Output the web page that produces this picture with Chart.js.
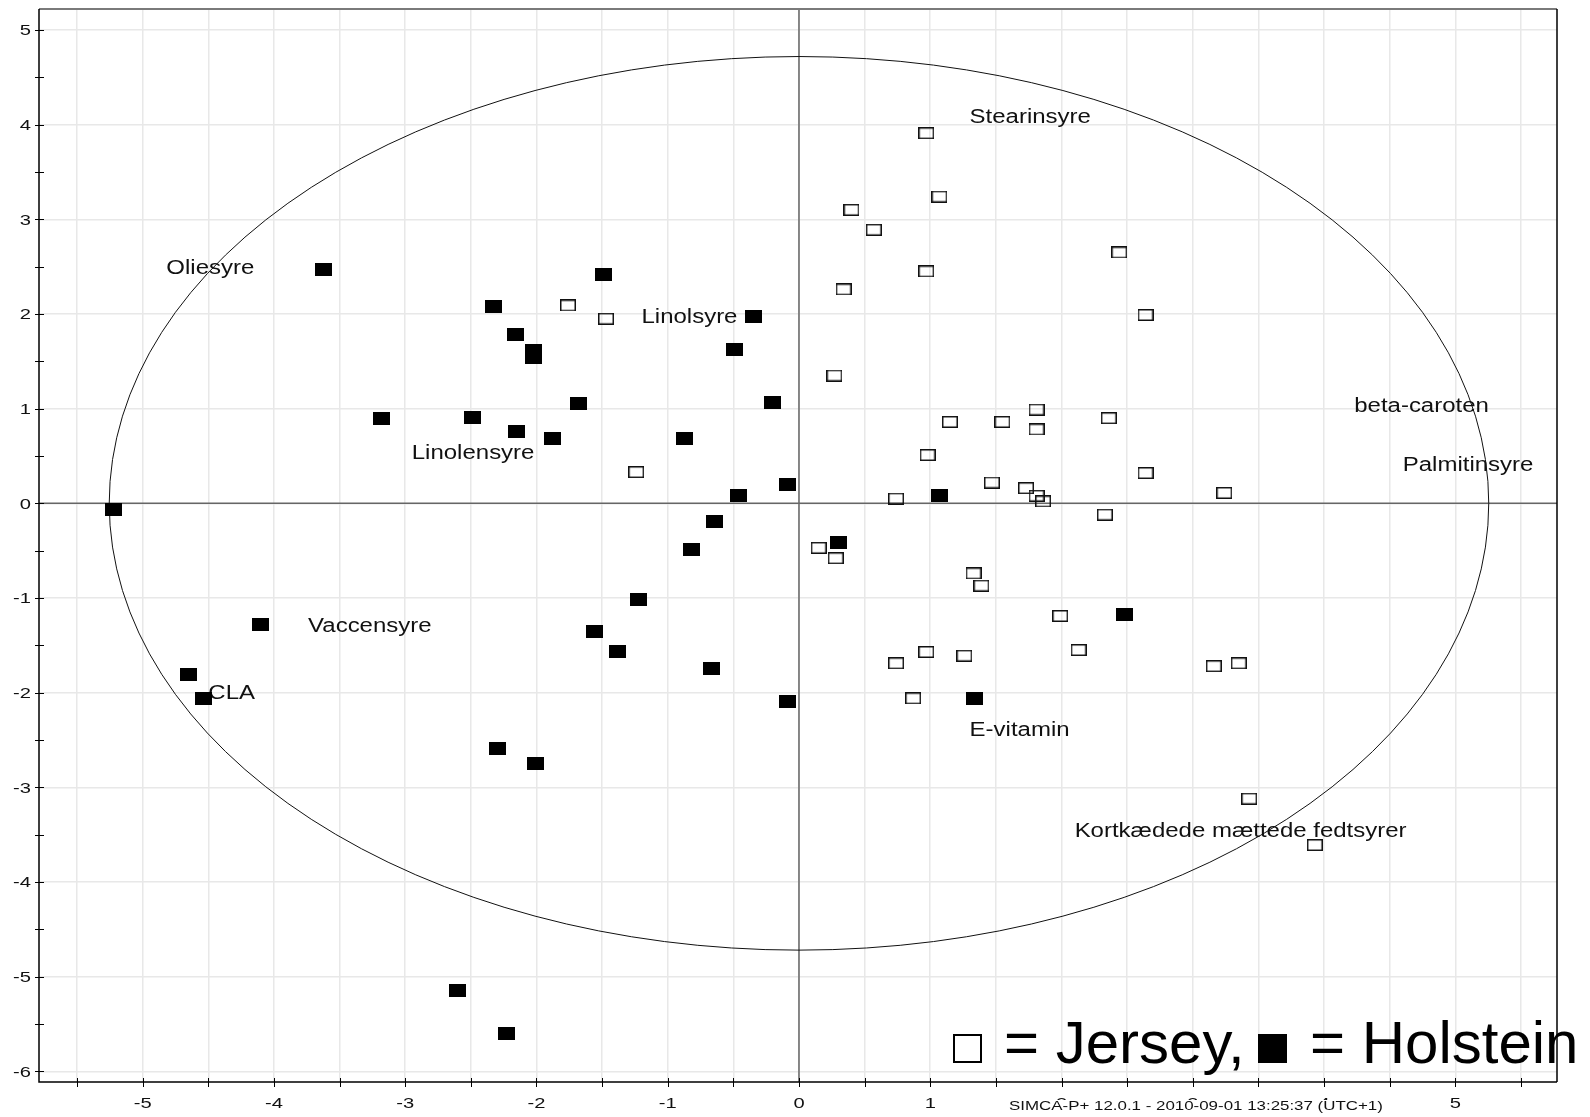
<!DOCTYPE html>
<html>
<head>
<meta charset="utf-8">
<script src="https://cdn.jsdelivr.net/npm/chart.js@4.4.0/dist/chart.umd.min.js"></script>
<style>
  html, body { margin: 0; padding: 0; background: #fff; overflow: hidden; }
  canvas { display: block; }
</style>
</head>
<body>
<canvas id="scores" width="1590" height="1117"></canvas>
<script>
// Score plot t[1] / t[2]: Jersey (open boxes) and Holstein (filled boxes)
const jerseyX = [0.97, 1.07, 0.40, 0.57, 0.97, 0.34, 2.44, 2.64, -1.76, -1.47,
                 0.27, 1.15, 1.55, 1.81, 1.81, 2.36, 0.98, -1.24, 1.47, 1.73,
                 1.81, 1.86, 0.74, 2.64, 3.24, 2.33, 0.15, 0.28, 1.33, 1.39,
                 1.99, 2.13, 0.97, 0.74, 1.26, 0.87, 3.16, 3.35, 3.43, 3.93];
const jerseyY = [3.91, 3.24, 3.10, 2.89, 2.45, 2.26, 2.65, 1.99, 2.09, 1.95,
                 1.35, 0.86, 0.86, 0.99, 0.78, 0.90, 0.51, 0.33, 0.22, 0.16,
                 0.08, 0.02, 0.05, 0.32, 0.11, -0.12, -0.47, -0.58, -0.74, -0.87,
                 -1.19, -1.55, -1.57, -1.69, -1.61, -2.06, -1.72, -1.69, -3.12, -3.61];

const holsteinX = [-5.22, -3.62, -1.49, -2.33, -2.16, -2.02, -2.02, -0.35, -0.49, -3.18,
                   -2.49, -2.15, -1.88, -1.68, -0.87, -0.20, -0.09, -0.46, 1.07, -0.64,
                   -0.82, 0.30, -1.22, -1.56, -1.38, -4.10, -4.65, -4.54, -0.67, -0.09,
                   1.34, 2.48, -2.30, -2.01, -2.60, -2.23];
const holsteinY = [-0.06, 2.47, 2.42, 2.08, 1.78, 1.61, 1.54, 1.97, 1.62, 0.90,
                   0.91, 0.76, 0.68, 1.05, 0.69, 1.07, 0.20, 0.08, 0.08, -0.19,
                   -0.49, -0.41, -1.02, -1.35, -1.56, -1.28, -1.81, -2.06, -1.75, -2.09,
                   -2.06, -1.17, -2.59, -2.75, -5.15, -5.60];

// Variable names written into the score plane (anchored at text start / baseline)
const variableNames = ['Stearinsyre', 'Oliesyre', 'Linolsyre', 'Linolensyre', 'beta-caroten',
                       'Palmitinsyre', 'Vaccensyre', 'CLA', 'E-vitamin',
                       'Kortkædede mættede fedtsyrer'];
const variableX = [1.30, -4.82, -1.20, -2.95, 4.23, 4.60, -3.74, -4.50, 1.30, 2.10];
const variableY = [4.02, 2.42, 1.90, 0.47, 0.97, 0.34, -1.36, -2.07, -2.46, -3.52];

// Axis tick labels
const xTickValues = [-5, -4, -3, -2, -1, 0, 1, 2, 3, 4, 5];
const xTickLabels = ['-5', '-4', '-3', '-2', '-1', '0', '1', '2', '3', '4', '5'];
const yTickValues = [5, 4, 3, 2, 1, 0, -1, -2, -3, -4, -5, -6];
const yTickLabels = ['5', '4', '3', '2', '1', '0', '-1', '-2', '-3', '-4', '-5', '-6'];

// Hotelling T2 (95%) ellipse half-axes
const ellipseHalfX = 5.255;
const ellipseHalfY = 4.72;

const footerText = 'SIMCA-P+ 12.0.1 - 2010-09-01 13:25:37 (UTC+1)';
const legendJerseyText = '= Jersey,';
const legendHolsteinText = '= Holstein';

const FONT = '"Liberation Sans", Arial, Helvetica, sans-serif';

function boxMarker(w, h, filled) {
  const c = document.createElement('canvas');
  c.width = w; c.height = h;
  const g = c.getContext('2d');
  if (filled) {
    g.fillStyle = '#000';
    g.fillRect(0, 0, w, h);
  } else {
    g.strokeStyle = '#111';
    g.lineWidth = 1.5;
    g.strokeRect(0.75, 0.75, w - 1.5, h - 1.5);
  }
  return c;
}
const openBox = boxMarker(16, 12, false);
const filledBox = boxMarker(17, 13, true);

function toPoints(xs, ys) { return xs.map((x, i) => ({ x: x, y: ys[i] })); }

function stretchedText(ctx, text, x, y, sx, align, baseline) {
  ctx.save();
  ctx.translate(x, y);
  ctx.scale(sx, 1);
  ctx.textAlign = align;
  ctx.textBaseline = baseline;
  ctx.fillText(text, 0, 0);
  ctx.restore();
}

const planeDecor = {
  id: 'planeDecor',
  beforeDatasetsDraw(chart) {
    const ctx = chart.ctx, xs = chart.scales.x, ys = chart.scales.y, a = chart.chartArea;
    const cx = xs.getPixelForValue(0), cy = ys.getPixelForValue(0);
    ctx.save();
    // zero lines
    ctx.strokeStyle = '#666';
    ctx.lineWidth = 1.5;
    ctx.beginPath();
    ctx.moveTo(a.left, cy); ctx.lineTo(a.right, cy);
    ctx.moveTo(cx, a.top); ctx.lineTo(cx, a.bottom);
    ctx.stroke();
    // confidence ellipse
    const rx = xs.getPixelForValue(ellipseHalfX) - cx;
    const ry = cy - ys.getPixelForValue(ellipseHalfY);
    ctx.strokeStyle = '#111';
    ctx.lineWidth = 1;
    ctx.beginPath();
    ctx.ellipse(cx, cy, rx, ry, 0, 0, Math.PI * 2);
    ctx.stroke();
    // variable names
    ctx.fillStyle = '#111';
    ctx.font = '19.5px ' + FONT;
    variableNames.forEach((name, i) => {
      stretchedText(ctx, name, xs.getPixelForValue(variableX[i]), ys.getPixelForValue(variableY[i]),
                    1.23, 'left', 'alphabetic');
    });
    ctx.restore();
  },
  afterDraw(chart) {
    const ctx = chart.ctx, xs = chart.scales.x, ys = chart.scales.y, a = chart.chartArea;
    ctx.save();
    // frame
    ctx.lineWidth = 2;
    ctx.strokeStyle = '#7a7a7a';
    ctx.beginPath(); ctx.moveTo(a.left, a.top); ctx.lineTo(a.right, a.top); ctx.stroke();
    ctx.strokeStyle = '#000';
    ctx.lineWidth = 1.5;
    ctx.beginPath();
    ctx.moveTo(a.right, a.top); ctx.lineTo(a.right, a.bottom);
    ctx.moveTo(a.left, a.top); ctx.lineTo(a.left, a.bottom); ctx.lineTo(a.right, a.bottom);
    ctx.stroke();
    // tick marks on every scale step
    ctx.lineWidth = 1;
    ctx.strokeStyle = '#000';
    ctx.beginPath();
    xs.ticks.forEach(t => {
      const px = Math.round(xs.getPixelForValue(t.value)) + 0.5;
      ctx.moveTo(px, a.bottom - 4); ctx.lineTo(px, a.bottom + 5);
    });
    ys.ticks.forEach(t => {
      const py = Math.round(ys.getPixelForValue(t.value)) + 0.5;
      ctx.moveTo(a.left - 4, py); ctx.lineTo(a.left + 5, py);
    });
    ctx.stroke();
    // tick labels
    ctx.fillStyle = '#111';
    ctx.font = '15.5px ' + FONT;
    xTickValues.forEach((v, i) => {
      stretchedText(ctx, xTickLabels[i], xs.getPixelForValue(v), a.bottom + 22, 1.3, 'center', 'middle');
    });
    yTickValues.forEach((v, i) => {
      stretchedText(ctx, yTickLabels[i], a.left - 8, ys.getPixelForValue(v) + 1, 1.3, 'right', 'middle');
    });
    // software stamp (sits over the lower part of the axis labels)
    ctx.fillStyle = '#fff';
    ctx.fillRect(1003, 1100, 386, 17);
    ctx.fillStyle = '#111';
    ctx.font = '13px ' + FONT;
    stretchedText(ctx, footerText, 1009, 1110, 1.3, 'left', 'alphabetic');
    // breed key
    ctx.strokeStyle = '#000';
    ctx.lineWidth = 2;
    ctx.strokeRect(954, 1035, 27, 27);
    ctx.fillStyle = '#000';
    ctx.fillRect(1258, 1034, 29, 29);
    ctx.font = '60px ' + FONT;
    ctx.textAlign = 'left';
    ctx.textBaseline = 'alphabetic';
    ctx.fillText(legendJerseyText, 1004, 1063);
    ctx.fillText(legendHolsteinText, 1310, 1063);
    ctx.restore();
  }
};

new Chart(document.getElementById('scores'), {
  type: 'scatter',
  data: {
    datasets: [
      {
        label: 'Jersey',
        data: toPoints(jerseyX, jerseyY),
        pointStyle: openBox,
        pointRadius: 8,
        pointHoverRadius: 8
      },
      {
        label: 'Holstein',
        data: toPoints(holsteinX, holsteinY),
        pointStyle: filledBox,
        pointRadius: 8,
        pointHoverRadius: 8
      }
    ]
  },
  options: {
    responsive: false,
    animation: false,
    devicePixelRatio: 1,
    layout: { padding: { left: 39, right: 33, top: 7, bottom: 35 } },
    plugins: { legend: { display: false }, tooltip: { enabled: false } },
    events: [],
    scales: {
      x: {
        type: 'linear',
        min: -5.79,
        max: 5.775,
        afterFit(s) { s.height = 0; },
        border: { display: false },
        grid: { color: '#e8e8e8', lineWidth: 1.5, drawTicks: false },
        ticks: { display: false, stepSize: 0.5, includeBounds: false }
      },
      y: {
        type: 'linear',
        min: -6.113,
        max: 5.222,
        afterFit(s) { s.width = 0; },
        border: { display: false },
        grid: {
          color: c => (c.tick && Number.isInteger(c.tick.value)) ? '#e8e8e8' : 'rgba(0,0,0,0)',
          lineWidth: 1.5,
          drawTicks: false
        },
        ticks: { display: false, stepSize: 0.5, includeBounds: false }
      }
    }
  },
  plugins: [planeDecor]
});
</script>
</body>
</html>
